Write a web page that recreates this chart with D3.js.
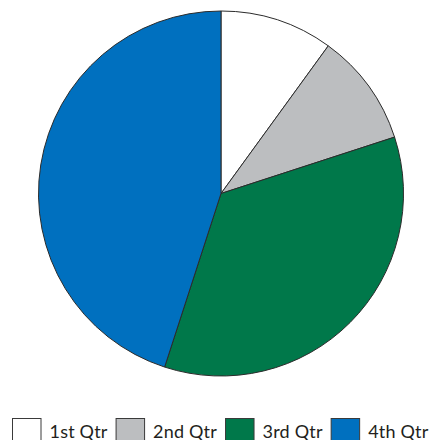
<!DOCTYPE html>
<html>
<head>
<meta charset="utf-8">
<script src="https://cdn.jsdelivr.net/npm/d3@7"></script>
<style>
  html, body { margin: 0; padding: 0; background: #fff; }
  svg { display: block; }
</style>
</head>
<body>
<svg id="chart" width="430" height="440"></svg>
<script>
// Quarterly shares
const categories = ["1st Qtr", "2nd Qtr", "3rd Qtr", "4th Qtr"];
const values = [10, 10, 35, 45];
const colors = ["#ffffff", "#bcbec0", "#00784a", "#0070bf"];

const svg = d3.select("#chart");
const cx = 221, cy = 193.5, radius = 182.5;

const pie = d3.pie().sort(null).value(d => d.value);
const arc = d3.arc().innerRadius(0).outerRadius(radius);
const color = d3.scaleOrdinal().domain(categories).range(colors);

const data = categories.map((c, i) => ({ name: c, value: values[i] }));

svg.append("g")
  .attr("transform", `translate(${cx},${cy})`)
  .selectAll("path")
  .data(pie(data))
  .join("path")
  .attr("d", arc)
  .attr("fill", d => color(d.data.name))
  .attr("stroke", "#2b2b2b")
  .attr("stroke-width", 1)
  .attr("stroke-linejoin", "round");

// Legend laid out left to right along the bottom edge
const legend = svg.append("g").attr("class", "legend");
const boxW = 28.5, boxH = 24, boxY = 418.5, textY = 437.5;
let x = 12.5;
categories.forEach(name => {
  legend.append("rect")
    .attr("x", x).attr("y", boxY)
    .attr("width", boxW).attr("height", boxH)
    .attr("fill", color(name))
    .attr("stroke", "#3a3a3a").attr("stroke-width", 1);
  x += boxW + 8.5;
  const t = legend.append("text")
    .attr("x", x).attr("y", textY)
    .attr("font-family", "Lato, 'Open Sans', sans-serif")
    .attr("font-size", 18)
    .attr("letter-spacing", 0.2)
    .attr("fill", "#231f20")
    .text(name);
  x += t.node().getComputedTextLength() + 8.5;
});
</script>
</body>
</html>
